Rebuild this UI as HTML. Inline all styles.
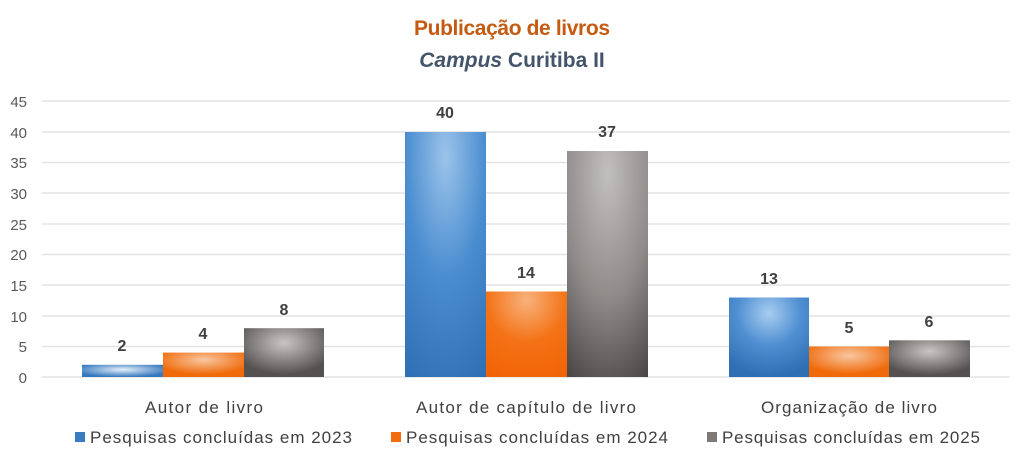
<!DOCTYPE html>
<html><head><meta charset="utf-8"><style>
html,body{margin:0;padding:0;background:#fff;}
svg{display:block;font-family:"Liberation Sans",Calibri,sans-serif;}
</style></head><body>
<svg width="1024" height="473" viewBox="0 0 1024 473" xmlns="http://www.w3.org/2000/svg">
<defs>
<radialGradient id="gb" cx="0.5" cy="0.1" r="1.1"><stop offset="0" stop-color="#9cc3ea"/><stop offset="0.45" stop-color="#4a8dd0"/><stop offset="1" stop-color="#2a6aae"/></radialGradient>
<radialGradient id="go" cx="0.5" cy="0.1" r="1.1"><stop offset="0" stop-color="#f8b27c"/><stop offset="0.45" stop-color="#f47216"/><stop offset="1" stop-color="#f06000"/></radialGradient>
<radialGradient id="gg" cx="0.5" cy="0.1" r="1.1"><stop offset="0" stop-color="#c2c0be"/><stop offset="0.5" stop-color="#8e8b89"/><stop offset="1" stop-color="#3e3a3a"/></radialGradient>
<radialGradient id="gbs" cx="0.5" cy="0.4" r="0.6"><stop offset="0" stop-color="#e4f0fb"/><stop offset="1" stop-color="#3577bd"/></radialGradient>
<radialGradient id="gbm" cx="0.5" cy="0.2" r="0.8"><stop offset="0" stop-color="#a8cdf0"/><stop offset="0.5" stop-color="#4f8fd2"/><stop offset="1" stop-color="#2e6fb3"/></radialGradient>
<radialGradient id="gos" cx="0.5" cy="0.3" r="0.6"><stop offset="0" stop-color="#f8c7a0"/><stop offset="1" stop-color="#f06a0a"/></radialGradient>
<radialGradient id="ggs" cx="0.5" cy="0.3" r="0.65"><stop offset="0" stop-color="#c8c6c4"/><stop offset="1" stop-color="#555151"/></radialGradient>
</defs>
<text x="512" y="35" text-anchor="middle" font-size="21" font-weight="bold" fill="#c55a11" textLength="196">Publicação de livros</text>
<text x="512" y="67" text-anchor="middle" font-size="21" font-weight="bold" fill="#44546a"><tspan font-style="italic">Campus</tspan> Curitiba II</text>
<g stroke="#e3e3e3" stroke-width="1.5">
<line x1="42" x2="1010" y1="101" y2="101"/><line x1="42" x2="1010" y1="132" y2="132"/>
<line x1="42" x2="1010" y1="162.5" y2="162.5"/><line x1="42" x2="1010" y1="193" y2="193"/>
<line x1="42" x2="1010" y1="224" y2="224"/><line x1="42" x2="1010" y1="254.5" y2="254.5"/>
<line x1="42" x2="1010" y1="285" y2="285"/><line x1="42" x2="1010" y1="316" y2="316"/>
<line x1="42" x2="1010" y1="346.5" y2="346.5"/><line x1="42" x2="1010" y1="377" y2="377"/>
</g>
<g font-size="15" fill="#595959" text-anchor="end">
<text x="27" y="107">45</text><text x="27" y="138">40</text><text x="27" y="168">35</text>
<text x="27" y="199">30</text><text x="27" y="230">25</text><text x="27" y="260">20</text>
<text x="27" y="291">15</text><text x="27" y="322">10</text><text x="27" y="352">5</text><text x="27" y="383">0</text>
</g>
<rect x="82" y="364.8" width="81" height="12.2" fill="url(#gbs)"/>
<rect x="163" y="352.6" width="81" height="24.4" fill="url(#gos)"/>
<rect x="244" y="328.2" width="80" height="48.8" fill="url(#ggs)"/>
<rect x="405" y="132" width="81" height="245" fill="url(#gb)"/>
<rect x="486" y="291.5" width="81" height="85.5" fill="url(#go)"/>
<rect x="567" y="151" width="81" height="226" fill="url(#gg)"/>
<rect x="729" y="297.5" width="80" height="79.5" fill="url(#gbm)"/>
<rect x="809" y="346.5" width="80" height="30.5" fill="url(#gos)"/>
<rect x="889" y="340.3" width="81" height="36.7" fill="url(#ggs)"/>
<g font-size="16" font-weight="bold" fill="#404040" text-anchor="middle">
<text x="122" y="351">2</text><text x="203" y="339">4</text><text x="284" y="315">8</text>
<text x="445" y="118">40</text><text x="526" y="278">14</text><text x="607" y="137">37</text>
<text x="769" y="284">13</text><text x="849" y="333">5</text><text x="929" y="327">6</text>
</g>
<g font-size="17" fill="#404040" text-anchor="middle">
<text x="204" y="413" textLength="118">Autor de livro</text>
<text x="526" y="413" textLength="220">Autor de capítulo de livro</text>
<text x="849" y="413" textLength="176">Organização de livro</text>
</g>
<g font-size="17" fill="#404040">
<rect x="75" y="432" width="10" height="10" fill="#3a7cc2"/><text x="90" y="443" textLength="262">Pesquisas concluídas em 2023</text>
<rect x="391" y="432" width="10" height="10" fill="#f26b0c"/><text x="406" y="443" textLength="262">Pesquisas concluídas em 2024</text>
<rect x="707" y="432" width="10" height="10" fill="#7d7a78"/><text x="722" y="443" textLength="258">Pesquisas concluídas em 2025</text>
</g>
</svg>
</body></html>
